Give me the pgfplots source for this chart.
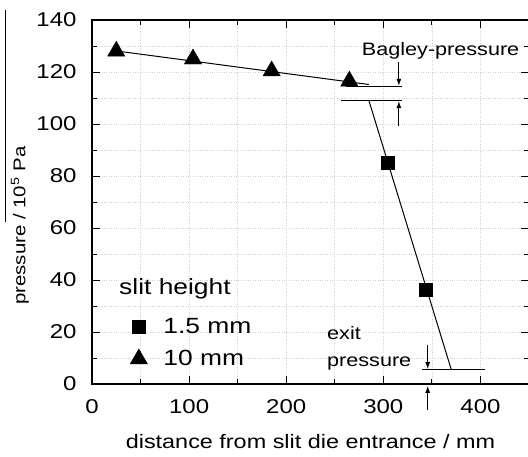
\documentclass[border=0pt]{standalone}
\usepackage{pgfplots}
\pgfplotsset{compat=1.18}
\usepackage{fontspec}
\setmainfont{Liberation Sans}[FakeStretch=1.2]
\usetikzlibrary{arrows.meta}
\begin{document}
\begin{tikzpicture}
\path[use as bounding box] (-92pt,-72pt) rectangle (436pt,384pt);
\draw[line width=0.8pt] (-87pt,162pt) -- (-87pt,374pt);
\begin{axis}[
  at={(0pt,0pt)}, anchor=south west,
  scale only axis, width=437pt, height=364pt,
  xmin=0, xmax=450, ymin=0, ymax=140,
  xtick={0,100,200,300,400}, ytick={0,20,40,60,80,100,120,140},
  minor x tick num=1, minor y tick num=1,
  tick align=inside, major tick length=8pt, minor tick length=5pt,
  grid=both,
  major grid style={lightgray!70, dotted, line width=0.6pt},
  minor grid style={lightgray!70, dotted, line width=0.6pt},
  axis line style={line width=1.1pt},
  every tick/.style={black, line width=1pt},
  /pgf/number format/assume math mode=true,
  tick label style={font=\fontsize{20}{22}\selectfont},
  xticklabel style={yshift=-12pt},
  yticklabel style={xshift=-12pt},
  xlabel={distance from slit die entrance / mm},
  ylabel={pressure / 10\textsuperscript{5} Pa},
  every axis x label/.style={at={(axis description cs:0.5,0)}, yshift=-58pt,
    anchor=center, font=\fontsize{19.5}{23}\selectfont},
  every axis y label/.style={at={(axis description cs:0,0.435)}, xshift=-72pt,
    rotate=90, anchor=center, font=\fontsize{17}{20}\selectfont},
  clip=false,
  legend style={at={(axis cs:36,26.1)}, anchor=north west, draw=none, fill=none,
    font=\fontsize{22}{26}\selectfont, row sep=14pt, nodes={inner sep=0pt},
    /tikz/column 1/.style={column sep=16pt}},
  legend cell align=left,
]
\addplot[black, line width=1pt, forget plot] coordinates {(25,128.1) (285,115.2)};
\addplot[black, line width=1pt, forget plot] coordinates {(285,109.2) (370,5.5)};
\addplot[black, line width=1pt, forget plot] coordinates {(262,114.5) (319,114.5)};
\addplot[black, line width=1pt, forget plot] coordinates {(256,109) (319,109)};
\addplot[black, line width=1pt, forget plot] coordinates {(340,5.5) (405,5.5)};
\addplot[only marks, mark=square*, mark size=6.5pt, black] coordinates {(304.5,85) (343.6,36.2)};
\addlegendentry{1.5 mm}
\addplot[only marks, mark=triangle*, mark size=10pt, black] coordinates {(25,128) (104,125) (185,120.4) (265,116.5)};
\addlegendentry{10 mm}
\draw[line width=1pt, -{Latex[length=7pt,width=5pt]}] (axis cs:316,123.8) -- (axis cs:316,114.7);
\draw[line width=1pt, -{Latex[length=7pt,width=5pt]}] (axis cs:316,99.2) -- (axis cs:316,108.8);
\draw[line width=1pt, -{Latex[length=7pt,width=5pt]}] (axis cs:345.7,15) -- (axis cs:345.7,5.7);
\draw[line width=1pt, -{Latex[length=7pt,width=5pt]}] (axis cs:345.7,-10) -- (axis cs:345.7,-0.7);
\node[font=\fontsize{18}{21}\selectfont, anchor=base, inner sep=0pt] at (axis cs:359,126.2) {Bagley-pressure};
\node[font=\fontsize{18}{22}\selectfont, anchor=base west, inner sep=0pt] at (axis cs:242,17.0) {exit};
\node[font=\fontsize{18}{22}\selectfont, anchor=base west, inner sep=0pt] at (axis cs:242,6.9) {pressure};
\node[font=\fontsize{22}{26}\selectfont, anchor=base west, inner sep=0pt] at (axis cs:27.8,34.6) {slit height};
\end{axis}
\end{tikzpicture}
\end{document}
